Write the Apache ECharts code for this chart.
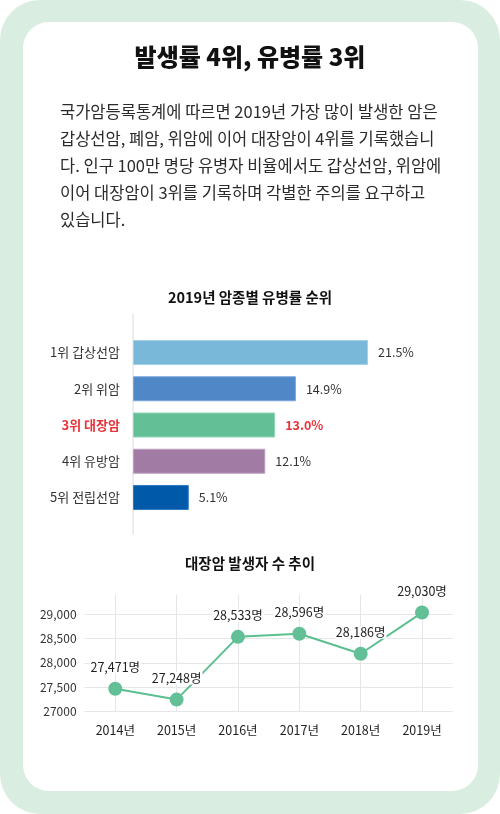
<!DOCTYPE html>
<html>
<head>
<meta charset="utf-8">
<script src="https://cdn.jsdelivr.net/npm/echarts@6/dist/echarts.min.js"></script>
<style>
html,body{margin:0;padding:0;background:#fff;}
#c{width:500px;height:814px;}
</style>
</head>
<body>
<div id="c"></div>
<script>
// ---- data ----
var mainTitle = '발생률 4위, 유병률 3위';
var paragraphLines = [
  '국가암등록통계에 따르면 2019년 가장 많이 발생한 암은',
  '갑상선암, 폐암, 위암에 이어 대장암이 4위를 기록했습니',
  '다. 인구 100만 명당 유병자 비율에서도 갑상선암, 위암에',
  '이어 대장암이 3위를 기록하며 각별한 주의를 요구하고',
  '있습니다.'
];
var barTitle = '2019년 암종별 유병률 순위';
var barCategories = ['1위 갑상선암', '2위 위암', '3위 대장암', '4위 유방암', '5위 전립선암'];
var barValues = [21.5, 14.9, 13.0, 12.1, 5.1];
var barColors = ['#7ab8da', '#4f87c7', '#63c096', '#a27ba4', '#0059a9'];
var barBorders = ['#a6d0e8', '#7aa6da', '#8fd3b3', '#bf9fc0', '#2f7bc2'];
var highlightIndex = 2;

var lineTitle = '대장암 발생자 수 추이';
var years = ['2014년', '2015년', '2016년', '2017년', '2018년', '2019년'];
var patients = [27471, 27248, 28533, 28596, 28186, 29030];
var yTickValues = [27000, 27500, 28000, 28500, 29000];
var yTickLabels = ['27000', '27,500', '28,000', '28,500', '29,000'];

// ---- chart ----
var FONT = '"Noto Sans CJK KR", "Noto Sans", sans-serif';
var chart = echarts.init(document.getElementById('c'), null, {renderer: 'canvas'});

var graphics = [
  {type: 'rect', z: -10, shape: {x: 0, y: 0, width: 500, height: 814, r: 40}, style: {fill: '#daede1'}},
  {type: 'rect', z: -9, shape: {x: 23, y: 22, width: 455, height: 769, r: 26}, style: {fill: '#ffffff'}},
  {type: 'text', x: 250, y: 57, style: {text: mainTitle, font: '900 24px ' + FONT, fill: '#111', align: 'center', verticalAlign: 'middle'}},
  {type: 'text', x: 250, y: 297, style: {text: barTitle, font: '700 14.5px ' + FONT, fill: '#111', align: 'center', verticalAlign: 'middle'}},
  {type: 'text', x: 250, y: 563, style: {text: lineTitle, font: '700 14.5px ' + FONT, fill: '#111', align: 'center', verticalAlign: 'middle'}},
  {type: 'line', z: -5, shape: {x1: 133, y1: 314, x2: 133, y2: 535}, style: {stroke: '#dcdcdc', lineWidth: 1}}
];
paragraphLines.forEach(function (t, i) {
  graphics.push({type: 'text', x: 60, y: 112 + i * 27, style: {text: t, font: '400 16.5px ' + FONT, fill: '#2b2b2b', align: 'left', verticalAlign: 'middle'}});
});

var option = {
  backgroundColor: '#ffffff',
  animation: false,
  graphic: graphics,
  grid: [
    {left: 133, right: 39, top: 334.4, bottom: 298.4},
    {left: 84.6, right: 47.3, top: 594.5, bottom: 102.3}
  ],
  xAxis: [
    {type: 'value', gridIndex: 0, min: 0, max: 30, show: false},
    {
      type: 'category', gridIndex: 1, data: years, boundaryGap: true,
      axisLine: {show: false}, axisTick: {show: false},
      axisLabel: {margin: 12, fontSize: 12.5, color: '#222', fontFamily: FONT},
      splitLine: {show: true, alignWithLabel: true, lineStyle: {color: '#e6e6e6', width: 1}}
    }
  ],
  yAxis: [
    {
      type: 'category', gridIndex: 0, data: barCategories, inverse: true,
      axisLine: {show: false}, axisTick: {show: false},
      axisLabel: {
        margin: 13, fontFamily: FONT,
        formatter: function (v, i) { return i === highlightIndex ? '{h|' + v + '}' : '{n|' + v + '}'; },
        rich: {
          n: {fontSize: 13, color: '#333', fontFamily: FONT},
          h: {fontSize: 13, color: '#e8353b', fontWeight: 700, fontFamily: FONT}
        }
      }
    },
    {
      type: 'value', gridIndex: 1, min: 27000, max: 29400, interval: 500,
      axisLine: {show: false}, axisTick: {show: false},
      axisLabel: {
        margin: 8, fontSize: 12, color: '#333', fontFamily: FONT, showMaxLabel: false,
        formatter: function (v) { var k = yTickValues.indexOf(v); return k >= 0 ? yTickLabels[k] : ''; }
      },
      splitLine: {show: true, showMaxLine: false, lineStyle: {color: '#e6e6e6', width: 1}}
    }
  ],
  series: [
    {
      type: 'bar', xAxisIndex: 0, yAxisIndex: 0, barWidth: 25,
      data: barValues.map(function (v, i) {
        return {
          value: v,
          itemStyle: {color: barColors[i], borderColor: barBorders[i], borderWidth: 1},
          label: i === highlightIndex ? {color: '#e8353b', fontWeight: 700} : {}
        };
      }),
      label: {
        show: true, position: 'right', distance: 10, fontSize: 12.5, color: '#333', fontFamily: FONT,
        formatter: function (p) { return p.value.toFixed(1) + '%'; }
      }
    },
    {
      type: 'line', xAxisIndex: 1, yAxisIndex: 1, data: patients,
      symbol: 'circle', symbolSize: 14,
      lineStyle: {color: '#5bbf90', width: 2},
      itemStyle: {color: '#63c096'},
      label: {
        show: true, position: 'top', distance: 8, fontSize: 12.5, color: '#222', fontFamily: FONT,
        backgroundColor: '#ffffff', padding: [0, 1],
        formatter: function (p) { return p.value.toLocaleString('en-US') + '명'; }
      },
      z: 3
    }
  ]
};
chart.setOption(option);
</script>
</body>
</html>
